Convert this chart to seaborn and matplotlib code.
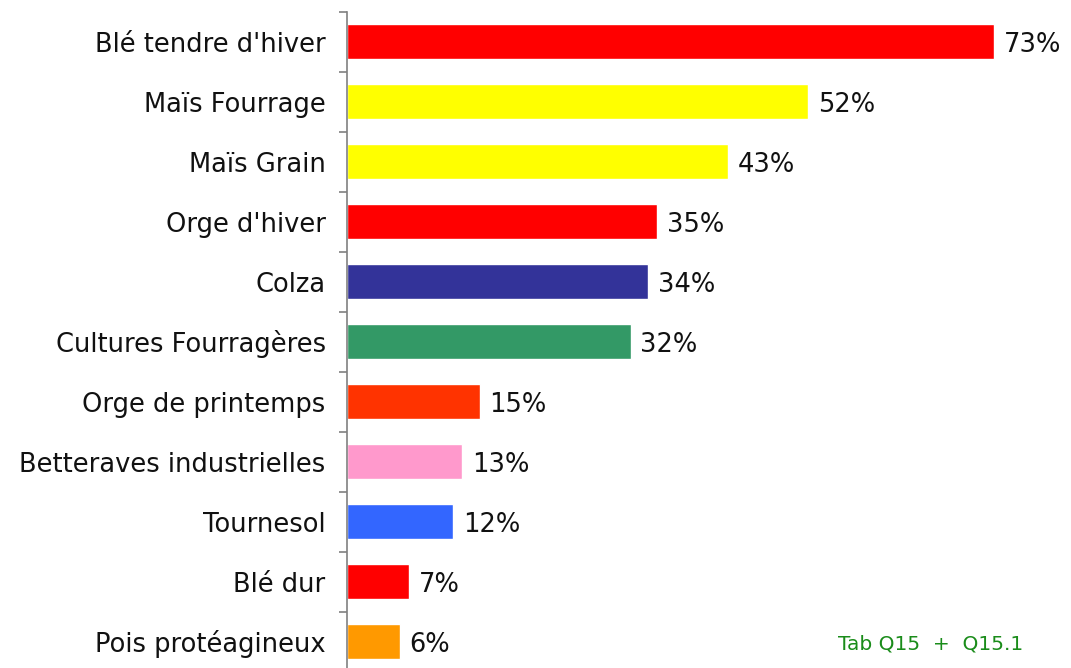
import matplotlib
matplotlib.use("Agg")
import matplotlib.pyplot as plt
import seaborn as sns
import pandas as pd
import numpy as np

cultures = [
    "Blé tendre d'hiver",
    "Maïs Fourrage",
    "Maïs Grain",
    "Orge d'hiver",
    "Colza",
    "Cultures Fourragères",
    "Orge de printemps",
    "Betteraves industrielles",
    "Tournesol",
    "Blé dur",
    "Pois protéagineux",
]
pourcentages = [73, 52, 43, 35, 34, 32, 15, 13, 12, 7, 6]
couleurs = [
    "#FF0000", "#FFFF00", "#FFFF00", "#FF0000", "#333399", "#339966",
    "#FF3300", "#FF99CC", "#3366FF", "#FF0000", "#FF9900",
]
source = "Tab Q15  +  Q15.1"

sns.set_theme(style="white")
plt.rcParams["font.family"] = ["DejaVu Sans"]

df = pd.DataFrame({"culture": cultures, "pct": pourcentages})

fig = plt.figure(figsize=(10.71, 6.68), dpi=100)
ax = fig.add_axes([346.5 / 1071, -3.5 / 668, 719 / 1071, 660 / 668])

sns.barplot(
    data=df, x="pct", y="culture", hue="culture", palette=couleurs,
    order=cultures, hue_order=cultures, orient="h", width=0.57,
    saturation=1, legend=False, ax=ax,
)

ax.set_xlim(0, 81)
ax.set_ylim(len(cultures) - 0.5, -0.5)
ax.set_xlabel("")
ax.set_ylabel("")
ax.set_xticks([])

for s in ["top", "right", "bottom"]:
    ax.spines[s].set_visible(False)
ax.spines["left"].set_color("#808080")
ax.spines["left"].set_linewidth(1.2)

ax.set_yticks(np.arange(len(cultures)))
ax.set_yticklabels(cultures, fontsize=18.5, color="#111111", va="center_baseline")
ax.tick_params(axis="y", which="major", length=0, pad=15)
ax.set_yticks(np.arange(len(cultures) + 1) - 0.5, minor=True)
ax.tick_params(axis="y", which="minor", left=True, length=6, width=1.2, color="#808080")

for i, v in enumerate(pourcentages):
    ax.text(v + 1.1, i, f"{v}%", va="center_baseline", ha="left", fontsize=18.5, color="#111111")

fig.text(838 / 1071, 1 - 642 / 668, source, fontsize=14.5, color="#1a8c1a",
         va="center_baseline", ha="left")

fig.savefig("out.png", dpi=100)
